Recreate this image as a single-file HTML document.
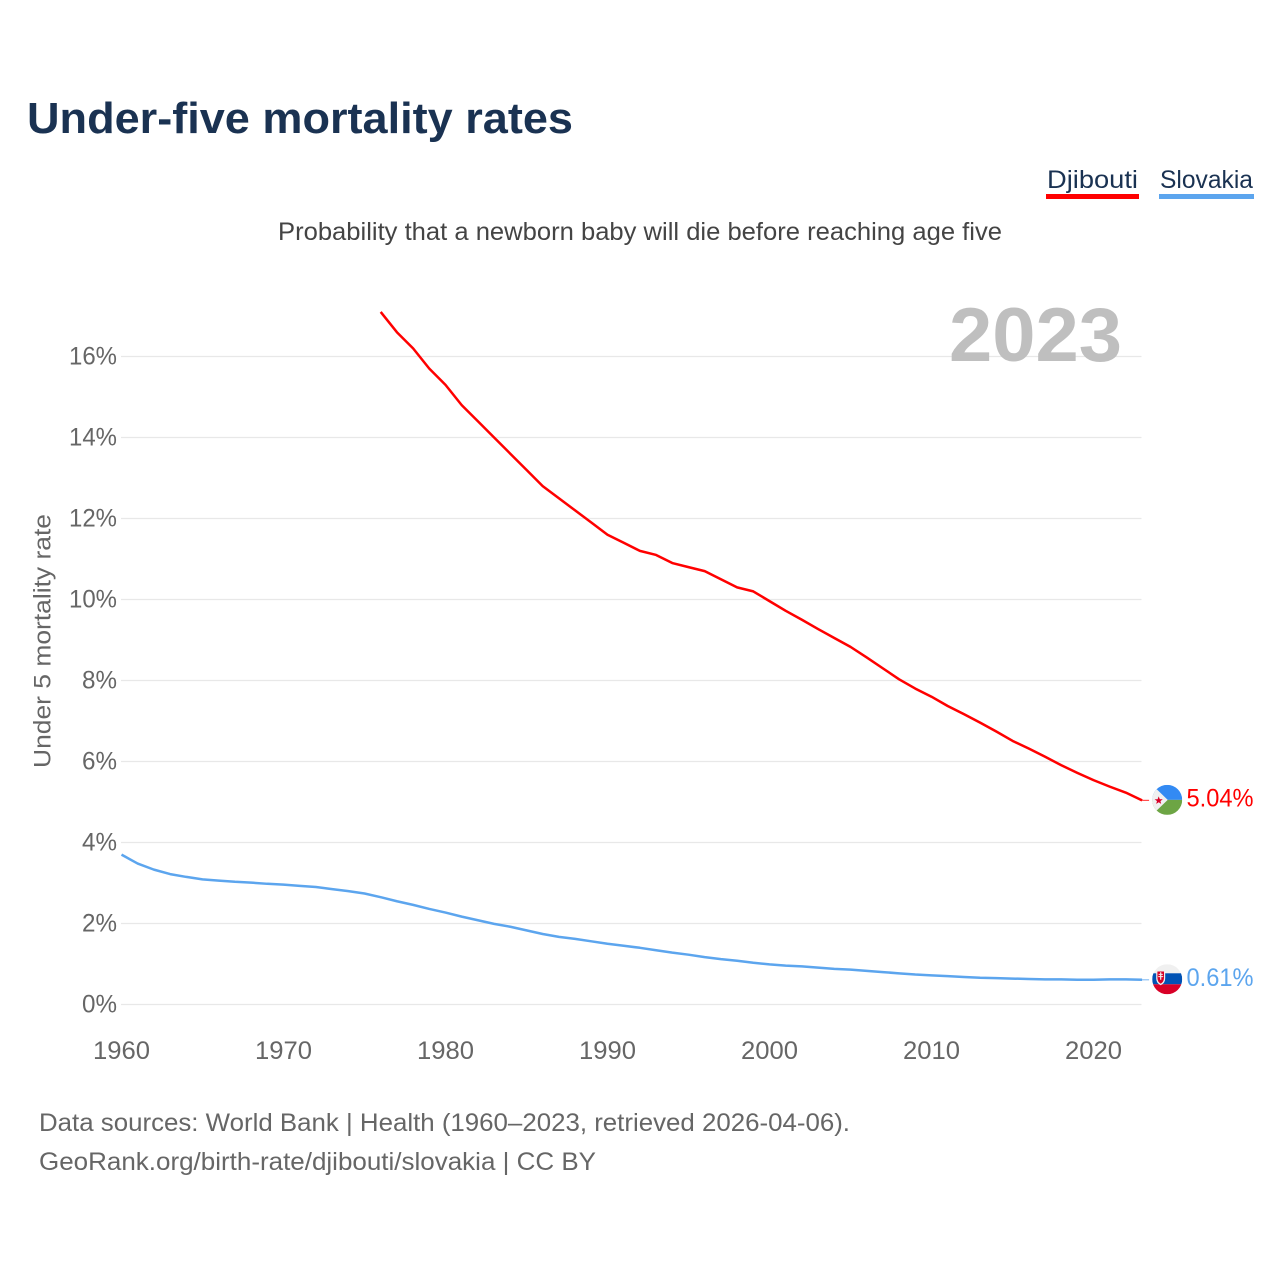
<!DOCTYPE html>
<html lang="en">
<head>
<meta charset="utf-8">
<title>Under-five mortality rates</title>
<style>
html,body{margin:0;padding:0;background:#fff;}
svg{display:block;font-family:"Liberation Sans",sans-serif;}
</style>
</head>
<body>
<svg id="chart" xmlns="http://www.w3.org/2000/svg" width="1280" height="1280" viewBox="0 0 1280 1280">
  <defs>
    <clipPath id="flag-clip-a"><circle cx="0" cy="0" r="15"/></clipPath>
  </defs>
  <text x="27" y="133" font-size="44" font-weight="700" fill="#1a3252" textLength="546" lengthAdjust="spacingAndGlyphs">Under-five mortality rates</text>

  <text x="1047" y="188" font-size="25" fill="#1a3252" textLength="91" lengthAdjust="spacingAndGlyphs">Djibouti</text>
  <rect x="1046" y="194" width="93" height="5" fill="#ff0000"/>
  <text x="1160" y="188" font-size="25" fill="#1a3252" textLength="93" lengthAdjust="spacingAndGlyphs">Slovakia</text>
  <rect x="1159" y="194" width="95" height="5" fill="#5ca5ee"/>

  <text x="278" y="240" font-size="25" fill="#444444" textLength="724" lengthAdjust="spacingAndGlyphs">Probability that a newborn baby will die before reaching age five</text>

  <g id="grid"></g>

  <text x="949" y="361" font-size="76" font-weight="700" fill="#bfbfbf" textLength="173" lengthAdjust="spacingAndGlyphs">2023</text>

  <g id="yticks"></g>
  <g id="xticks"></g>

  <text transform="translate(50.5,641) rotate(-90)" text-anchor="middle" font-size="24.5" fill="#666666" textLength="254" lengthAdjust="spacingAndGlyphs">Under 5 mortality rate</text>

  <g id="series"></g>

  <g id="flag-djibouti">
    <g clip-path="url(#flag-clip-a)">
      <rect x="-15" y="-15" width="30" height="15" fill="#338af3"/>
      <rect x="-15" y="0" width="30" height="15" fill="#6da544"/>
      <polygon points="-15,-15 -15,15 0.5,0" fill="#f0f0f0"/>
      <polygon points="-8.5,-3.5 -7.4,-0.6 -4.4,-0.6 -6.8,1.2 -6,4 -8.5,2.4 -11,4 -10.2,1.2 -12.6,-0.6 -9.6,-0.6" fill="#d80027"/>
    </g>
  </g>
  <g id="flag-slovakia">
    <g clip-path="url(#flag-clip-a)">
      <rect x="-15" y="-15" width="30" height="10" fill="#f0f0f0"/>
      <rect x="-15" y="-6" width="30" height="11" fill="#0052b4"/>
      <rect x="-15" y="5" width="30" height="10" fill="#d80027"/>
      <path d="M-11,-9 H-2 V-1 Q-2,4 -6.5,6 Q-11,4 -11,-1 Z" fill="#f0f0f0"/>
      <path d="M-9.8,-7.8 H-3.2 V-1.5 Q-3.2,2.6 -6.5,4.4 Q-9.8,2.6 -9.8,-1.5 Z" fill="#d80027"/>
      <path d="M-7.1,-7 H-5.9 V-5.4 H-4.4 V-4.4 H-5.9 V-3.2 H-4 V-2.2 H-5.9 V0.4 H-7.1 V-2.2 H-9 V-3.2 H-7.1 V-4.4 H-8.6 V-5.4 H-7.1 Z" fill="#f0f0f0"/>
    </g>
  </g>

  <text x="39" y="1131" font-size="25" fill="#666666" textLength="811" lengthAdjust="spacingAndGlyphs">Data sources: World Bank | Health (1960–2023, retrieved 2026-04-06).</text>
  <text x="39" y="1170" font-size="25" fill="#666666" textLength="557" lengthAdjust="spacingAndGlyphs">GeoRank.org/birth-rate/djibouti/slovakia | CC BY</text>
</svg>
<script>
// Chart data
const xTickYears = [1960, 1970, 1980, 1990, 2000, 2010, 2020];
const yTickValues = [0, 2, 4, 6, 8, 10, 12, 14, 16];
const djiboutiStartYear = 1976;
const djiboutiValues = [
  17.1, 16.6, 16.2, 15.7,
  15.3, 14.8, 14.4, 14.0, 13.6, 13.2, 12.8, 12.5, 12.2, 11.9,
  11.6, 11.4, 11.2, 11.1, 10.9, 10.8, 10.7, 10.5, 10.3, 10.2,
  9.96, 9.72, 9.5, 9.27, 9.05, 8.83, 8.57, 8.3, 8.03, 7.8,
  7.6, 7.37, 7.17, 6.96, 6.74, 6.51, 6.32, 6.12, 5.91, 5.72,
  5.54, 5.38, 5.23, 5.04
];
const slovakiaStartYear = 1960;
const slovakiaValues = [
  3.7, 3.48, 3.33, 3.22, 3.15, 3.09, 3.06, 3.03, 3.01, 2.98,
  2.96, 2.93, 2.9, 2.85, 2.8, 2.74, 2.65, 2.55, 2.46, 2.36,
  2.27, 2.17, 2.08, 1.99, 1.92, 1.83, 1.74, 1.67, 1.62, 1.56,
  1.5, 1.45, 1.4, 1.34, 1.28, 1.23, 1.17, 1.12, 1.08, 1.03,
  0.99, 0.96, 0.94, 0.91, 0.88, 0.86, 0.83, 0.8, 0.77, 0.74,
  0.72, 0.7, 0.68, 0.66, 0.65, 0.64, 0.63, 0.62, 0.62, 0.61,
  0.61, 0.62, 0.62, 0.61
];

const NS = 'http://www.w3.org/2000/svg';
const xScale = (year) => 121.5 + (year - 1960) * 16.2;
const yScale = (value) => 1004.5 - value * 40.5;

function make(tag, attrs, parent, text) {
  const el = document.createElementNS(NS, tag);
  for (const k in attrs) el.setAttribute(k, attrs[k]);
  if (text !== undefined) el.textContent = text;
  parent.appendChild(el);
  return el;
}

const gridGroup = document.getElementById('grid');
const yGroup = document.getElementById('yticks');
const xGroup = document.getElementById('xticks');
const seriesGroup = document.getElementById('series');
const chartSvg = document.getElementById('chart');

yTickValues.forEach(function (v) {
  const line = make('line', {x1: 121, x2: 1141.5, y1: yScale(v), y2: yScale(v), stroke: '#e8e8e8', 'stroke-width': 1.3}, gridGroup);
  
  
  const label = v + '%';
  const t = make('text', {x: 117, y: yScale(v) + 8, 'text-anchor': 'end', 'font-size': 25, fill: '#666666', textLength: v >= 10 ? 48 : 35, lengthAdjust: 'spacingAndGlyphs'}, yGroup, label);
  
  
});

xTickYears.forEach(function (y) {
  const t = make('text', {x: xScale(y), y: 1059, 'text-anchor': 'middle', 'font-size': 25, fill: '#666666', textLength: 57, lengthAdjust: 'spacingAndGlyphs'}, xGroup, String(y));
  
  
});

function drawSeries(values, startYear, color, name) {
  const pts = values.map(function (v, i) {
    return xScale(startYear + i).toFixed(2) + ',' + yScale(v).toFixed(2);
  }).join(' ');
  const line = make('polyline', {points: pts, fill: 'none', stroke: color, 'stroke-width': 2.5, 'stroke-linejoin': 'round'}, seriesGroup);
  
  
  const endX = xScale(startYear + values.length - 1);
  const endY = yScale(values[values.length - 1]);
  const leader = make('line', {x1: endX, x2: endX + 7, y1: endY, y2: endY, stroke: color, 'stroke-width': 1.2, opacity: 0.7}, seriesGroup);
  
  
  const label = make('text', {x: 1253.5, y: endY + 6, 'text-anchor': 'end', 'font-size': 25, fill: color, textLength: 67, lengthAdjust: 'spacingAndGlyphs'}, chartSvg, values[values.length - 1].toFixed(2) + '%');
  
  
  document.getElementById('flag-' + name).setAttribute('transform', 'translate(1167.2,' + (endY - 0.5) + ')');
}

drawSeries(djiboutiValues, djiboutiStartYear, '#ff0000', 'djibouti');
drawSeries(slovakiaValues, slovakiaStartYear, '#5ca5ee', 'slovakia');
</script>
</body>
</html>
